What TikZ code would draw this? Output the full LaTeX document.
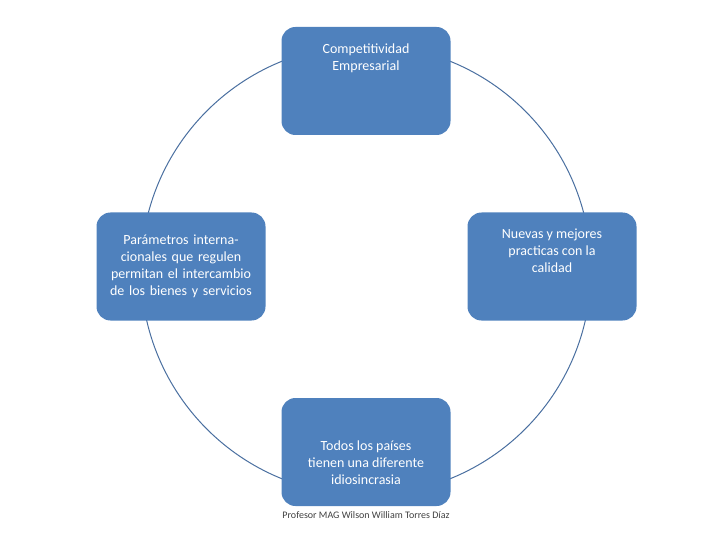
\documentclass[tikz,border=0pt]{standalone}
\usepackage{fontspec}
\setmainfont{Carlito}
\definecolor{boxblue}{HTML}{4F81BD}
\definecolor{linec}{HTML}{4A6FA0}
\begin{document}
\begin{tikzpicture}[x=1pt,y=-1pt,
  box/.style={fill=boxblue,draw=none,rounded corners=14pt,minimum width=169pt,minimum height=108pt,text=white,align=center,font=\fontsize{14}{17}\selectfont,inner sep=2pt},
  ring/.style={draw=linec,line width=1pt}]
\useasboundingbox (0,0) rectangle (720,540);
\coordinate (c) at (366,270);
\draw[ring] (c) circle[radius=225];
\node[box] (top) at (366,81) {Competitividad\\Empresarial\\[30pt]};
\node[box,text width=150pt] (left) at (181,266.5) {Parámetros internacionales que regulen permitan el intercambio de los bienes y servicios};
\node[box] (right) at (552,266.5) {Nuevas y mejores\\practicas con la\\calidad\\[14pt]};
\node[box] (bottom) at (366,452) {\\[14pt]Todos los países\\tienen una diferente\\idiosincrasia};
\node[font=\fontsize{10}{12}\selectfont,text=black!75] (foot) at (366,515) {Profesor MAG Wilson William Torres Díaz};
\end{tikzpicture}
\end{document}
